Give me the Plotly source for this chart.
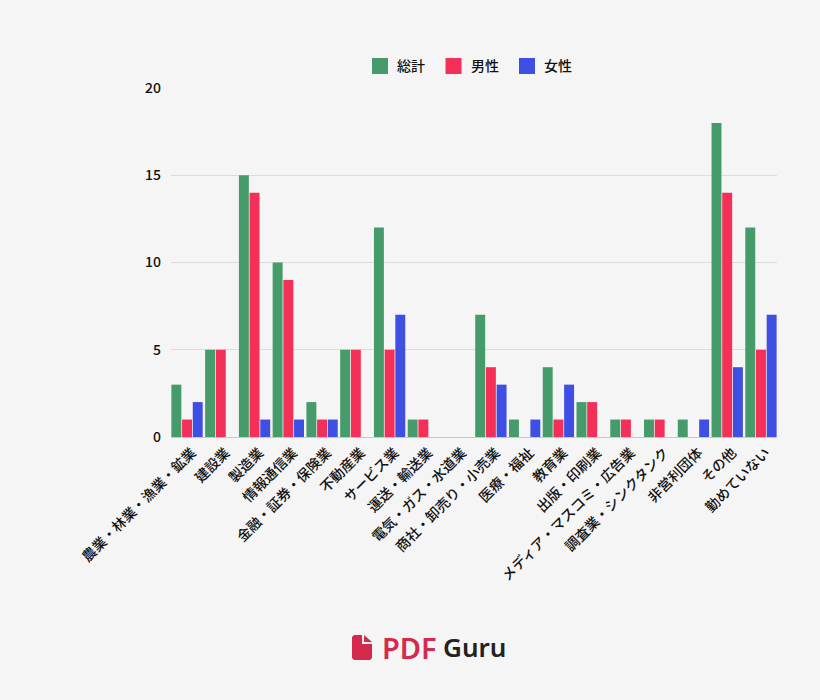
import plotly.graph_objects as go

categories = ["農業・林業・漁業・鉱業", "建設業", "製造業", "情報通信業", "金融・証券・保険業", "不動産業",
              "サービス業", "運送・輸送業", "電気・ガス・水道業", "商社・卸売り・小売業", "医療・福祉", "教育業",
              "出版・印刷業", "メディア・マスコミ・広告業", "調査業・シンクタンク", "非営利団体", "その他", "勤めていない"]
total = [3, 5, 15, 10, 2, 5, 12, 1, 0, 7, 1, 4, 2, 1, 1, 1, 18, 12]
male = [1, 5, 14, 9, 1, 5, 5, 1, 0, 4, 0, 1, 2, 1, 1, 0, 14, 5]
female = [2, 0, 1, 1, 1, 0, 7, 0, 0, 3, 1, 3, 0, 0, 0, 1, 4, 7]
series = [("総計", total, "#459b6a"), ("男性", male, "#f42f58"), ("女性", female, "#3f4fe3")]

FONT = "Noto Sans CJK JP"
BG = "#f5f5f5"
RED = "#d42a4e"
W, H = 820, 700
L, R, T, B = 171, 43, 88, 263
GAP = 0.05
label_font = dict(family=FONT, size=14, weight=500, color="#111111")


def px_x(v):
    return (v - L) / (W - L - R)


def px_y(v):
    return (H - B - v) / (H - T - B)


fig = go.Figure()
for name, vals, col in series:
    fig.add_bar(x=categories, y=vals, name=name, marker=dict(color=col, line_width=0))

shapes = []
annotations = []

# Key above the plot: one square swatch and one label per series
for i, (name, _, col) in enumerate(series):
    left = 372 + i * 73.5
    shapes.append(dict(type="rect", xref="paper", yref="paper", x0=px_x(left), x1=px_x(left + 16),
                       y0=px_y(74), y1=px_y(58), fillcolor=col, line_width=0))
    annotations.append(dict(text=name, xref="paper", yref="paper", x=px_x(left + 24), y=px_y(65),
                            xanchor="left", yanchor="middle", showarrow=False, xshift=-1, font=label_font))

# Brand mark: a page with a folded corner
ix, iy, iw, ih = 352, 635, 20, 25
pts = [(ix + 2, iy), (ix + 10, iy), (ix + 10, iy + 9), (ix + iw, iy + 9), (ix + iw, iy + ih - 2),
       (ix + iw - 2, iy + ih), (ix + 2, iy + ih), (ix, iy + ih - 2), (ix, iy + 2)]
page = "M" + " L".join(f"{px_x(a):.4f},{px_y(b):.4f}" for a, b in pts) + " Z"
fold = [(ix + 12, iy), (ix + iw, iy + 7), (ix + 12, iy + 7)]
corner = "M" + " L".join(f"{px_x(a):.4f},{px_y(b):.4f}" for a, b in fold) + " Z"
shapes += [dict(type="path", xref="paper", yref="paper", path=p, fillcolor=RED, line_width=0)
           for p in (page, corner)]

annotations += [
    dict(text="PDF", xref="paper", yref="paper", x=px_x(380), y=px_y(647), xanchor="left", yanchor="middle",
         showarrow=False, font=dict(family="Noto Sans", size=29, color=RED, weight=600)),
    dict(text="Guru", xref="paper", yref="paper", x=px_x(441), y=px_y(647), xanchor="left", yanchor="middle",
         showarrow=False, font=dict(family="Noto Sans", size=26, color="#222222", weight=600)),
]

fig.update_layout(
    width=W, height=H, autosize=False,
    paper_bgcolor=BG, plot_bgcolor=BG,
    margin=dict(l=L, r=R, t=T, b=B),
    barmode="group", bargap=GAP, bargroupgap=0.07,
    font=dict(family=FONT, color="#111111", size=14),
    showlegend=False,
    xaxis=dict(type="category", tickangle=-45, tickfont=label_font, ticklabelshift=5, ticklabelstandoff=1,
               showgrid=False, showline=True, linecolor="#c9c9c9", linewidth=1, ticks="",
               automargin=False, range=[-0.5 + GAP / 2, 17.5 - GAP / 2]),
    yaxis=dict(range=[0, 20], tickvals=[0, 5, 10, 15, 20], tickfont=label_font, ticklabelstandoff=9,
               gridcolor="#dcdcdc", gridwidth=1, zeroline=False, showline=False, ticks="", automargin=False),
    shapes=shapes,
    annotations=annotations,
)

fig.write_html("out.html")
